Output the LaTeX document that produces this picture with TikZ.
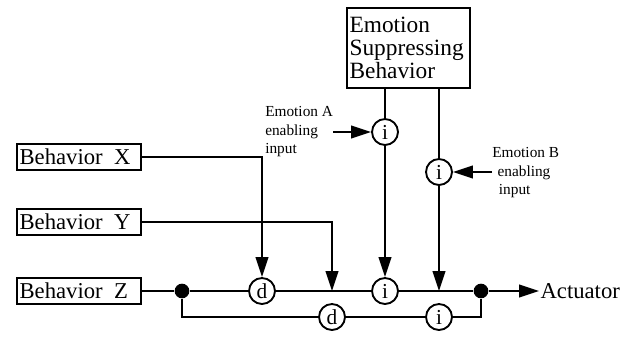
\documentclass[tikz,border=0pt]{standalone}
\usepackage{fontspec}
\setmainfont{Liberation Serif}
\usetikzlibrary{arrows.meta}
\tikzset{
  % linee e frecce
  wire/.style={line width=1.4pt},
  feed/.style={wire, -{Triangle[length=15pt, width=9.5pt]}},
  % riquadri dei comportamenti
  behavior/.style={
    draw, wire, anchor=west,
    text width=89pt, minimum height=19.5pt, inner sep=2pt, align=left,
    font=\fontsize{17}{17}\selectfont
  },
  % nodi d / i
  gate/.style={
    draw, wire, circle, fill=white,
    minimum size=19.5pt, inner sep=0pt,
    font=\fontsize{16}{16}\selectfont
  },
  junction/.style={circle, fill=black, minimum size=11pt, inner sep=0pt},
  % testo degli ingressi
  note/.style={align=left, inner sep=0pt, font=\fontsize{11.5}{14}\selectfont}
}

\begin{document}
\begin{tikzpicture}[x=0.75pt, y=-0.75pt]
  \useasboundingbox (0,0) rectangle (636,336);

  % comportamenti
  \node[behavior] (behX) at (16,157) {Behavior\enspace X};
  \node[behavior] (behY) at (16,222) {Behavior\enspace Y};
  \node[behavior] (behZ) at (16,291) {Behavior\enspace Z};
  \node[draw, wire, anchor=north west, text width=88pt, minimum height=60pt,
        inner sep=2pt, align=left, font=\fontsize{17.5}{17}\selectfont]
        (emoSup) at (346,7) {Emotion\\Suppressing\\Behavior};

  % nodi sulla linea principale e su quella inferiore
  \node[junction] (dotL) at (182,291) {};
  \node[gate] (dX) at (262,291) {d};
  \node[gate] (iMain) at (385,291) {i};
  \node[junction] (dotR) at (481,291) {};
  \node[gate] (dY) at (332,317) {d};
  \node[gate] (iLow) at (439,317) {i};
  \coordinate (hitY) at (332,291);
  \coordinate (hitB) at (439,291);
  \node[anchor=west, inner sep=1pt, font=\fontsize{17}{17}\selectfont] (act) at (539,291) {Actuator};

  % ingressi delle emozioni
  \node[gate] (iEA) at (385,132) {i};
  \node[gate] (iEB) at (439,172) {i};
  \node[note, anchor=north west] (txtA) at (265,106) {Emotion A\\enabling\\input};
  \node[note, anchor=north west] (txtB) at (492,147) {Emotion B\\\hspace*{4pt}enabling\\\hspace*{5pt}input};

  \draw[wire] (behZ) -- (dotL) -- (dX) -- (iMain) -- (dotR);
  \draw[feed] (dotR) -- (act);
  \draw[wire] (dotL) |- (dY) -- (iLow) -| (dotR);

  \draw[feed] (behX) -| (dX);
  \draw[feed] (behY) -| (hitY);

  \draw[wire] (emoSup.south -| iEA) -- (iEA);
  \draw[feed] (iEA) -- (iMain);
  \draw[wire] (emoSup.south -| iEB) -- (iEB);
  \draw[feed] (iEB) -- (hitB);

  \draw[feed] (txtA.east |- iEA) -- (iEA);
  \draw[feed] (txtB.west |- iEB) -- (iEB);
\end{tikzpicture}
\end{document}
